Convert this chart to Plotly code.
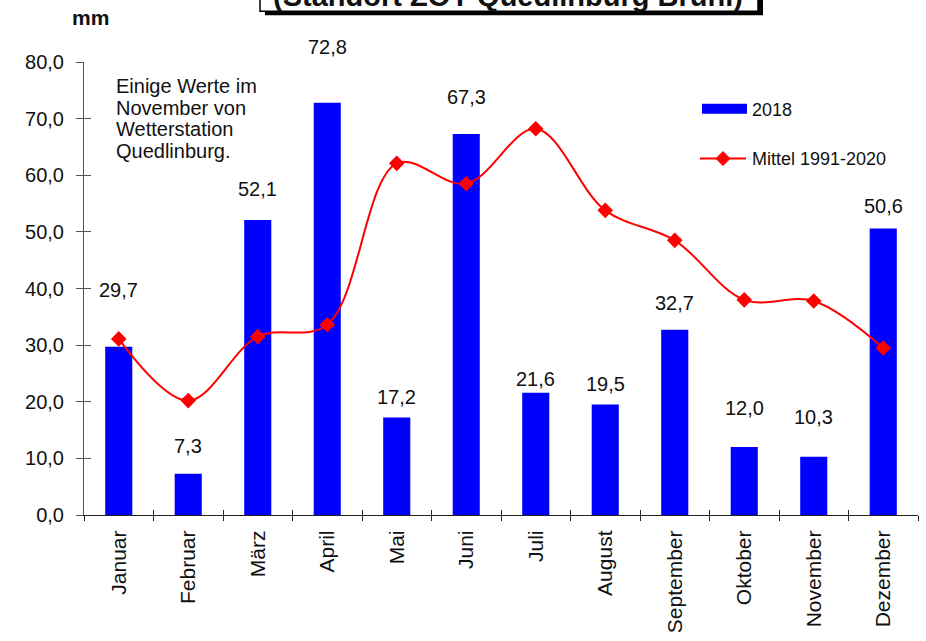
import plotly.graph_objects as go

months = ["Januar", "Februar", "März", "April", "Mai", "Juni", "Juli",
          "August", "September", "Oktober", "November", "Dezember"]
rain_2018 = [29.7, 7.3, 52.1, 72.8, 17.2, 67.3, 21.6, 19.5, 32.7, 12.0, 10.3, 50.6]
mittel_1991_2020 = [31.1, 20.2, 31.5, 33.6, 62.1, 58.5, 68.2, 53.8, 48.5, 38.0, 37.8, 29.5]
label_shift_px = [57, 28, 31, 56, 21, 37, 14, 21, 27, 39, 40, 22]
note_lines = ["Einige Werte im", "November von", "Wetterstation", "Quedlinburg."]

FONT = "Liberation Sans, Arial, sans-serif"
BLUE = "#0000ff"
RED = "#ff0000"

fig = go.Figure()
fig.add_trace(go.Bar(x=months, y=rain_2018, name="2018", marker_color=BLUE,
                     marker_line_width=0, width=0.39, showlegend=False,
                     xaxis="x", yaxis="y"))
fig.add_trace(go.Scatter(x=months, y=mittel_1991_2020, name="Mittel 1991-2020",
                         mode="lines+markers",
                         line=dict(color=RED, width=2, shape="spline", smoothing=1.0),
                         marker=dict(symbol="diamond", size=12, color=RED),
                         showlegend=False, xaxis="x2", yaxis="y2"))

annotations = []
for m, v, s in zip(months, rain_2018, label_shift_px):
    annotations.append(dict(x=m, y=v, xref="x", yref="y", text=f"{v:.1f}".replace(".", ","),
                            showarrow=False, yshift=s, yanchor="middle", xanchor="center",
                            font=dict(family=FONT, size=20, color="#111")))

W, L, R, T, B = 926, 84, 8, 62, 124
PW = W - L - R
PH = 641 - T - B

def px(x):
    return (x - L) / PW

def py(y):
    return (641 - B - y) / PH

for i, line in enumerate(note_lines):
    annotations.append(dict(xref="paper", yref="paper", x=px(114), y=py(86 + i * 21.8),
                            xanchor="left", yanchor="middle", showarrow=False, text=line,
                            font=dict(family=FONT, size=20, color="#111")))

annotations += [
    dict(xref="paper", yref="paper", x=px(90), y=py(17), xanchor="center", yanchor="middle",
         showarrow=False, text="<b>mm</b>", font=dict(family=FONT, size=21, color="#111")),
    dict(xref="paper", yref="paper", x=px(750), y=py(110), xanchor="left", yanchor="middle",
         showarrow=False, text="2018", font=dict(family=FONT, size=18, color="#111")),
    dict(xref="paper", yref="paper", x=px(750), y=py(159), xanchor="left", yanchor="middle",
         showarrow=False, text="Mittel 1991-2020", font=dict(family=FONT, size=18, color="#111")),
    dict(xref="paper", yref="paper", x=px(508), y=py(-4), xanchor="center", yanchor="middle",
         showarrow=False, text="<b>(Standort ZOY Quedlinburg Brühl)</b>",
         font=dict(family=FONT, size=29, color="#111")),
]

dcx, dcy = px(723), py(159)
ddx, ddy = 7 / PW, 7 / PH
shapes = [
    dict(type="rect", xref="paper", yref="paper", x0=px(265), x1=px(763), y0=py(15), y1=py(-40),
         fillcolor="#000", line=dict(width=0), layer="above"),
    dict(type="rect", xref="paper", yref="paper", x0=px(260), x1=px(758), y0=py(11), y1=py(-45),
         fillcolor="#fff", line=dict(color="#000", width=1.5), layer="above"),
    dict(type="rect", xref="paper", yref="paper", x0=px(702), x1=px(747), y0=py(114), y1=py(104),
         fillcolor=BLUE, line=dict(width=0)),
    dict(type="line", xref="paper", yref="paper", x0=px(700), x1=px(746), y0=py(159), y1=py(159),
         line=dict(color=RED, width=2)),
    dict(type="path", xref="paper", yref="paper",
         path=f"M {dcx - ddx} {dcy} L {dcx} {dcy + ddy} L {dcx + ddx} {dcy} L {dcx} {dcy - ddy} Z",
         fillcolor=RED, line=dict(color=RED, width=1)),
]

fig.update_layout(
    width=926, height=641,
    margin=dict(l=L, r=R, t=T, b=B),
    paper_bgcolor="#fff", plot_bgcolor="#fff",
    separators=",.",
    font=dict(family=FONT, size=18, color="#111"),
    annotations=annotations,
    shapes=shapes,
    xaxis=dict(type="category", categoryorder="array", categoryarray=months,
               range=[-0.5, 11.5], tickson="boundaries", ticks="outside", ticklen=5,
               tickcolor="#222", tickangle=-90, showline=True, linecolor="#222", linewidth=1.2,
               showgrid=False, ticklabelstandoff=6,
               tickfont=dict(family=FONT, size=21, color="#111"), zeroline=False),
    yaxis=dict(range=[0, 80], dtick=10, tickformat=".1f", ticks="outside", ticklen=7,
               tickcolor="#555", showline=True, linecolor="#555", linewidth=1,
               showgrid=False, zeroline=False, ticklabelstandoff=8,
               tickfont=dict(family=FONT, size=20, color="#111")),
    xaxis2=dict(type="category", categoryorder="array", categoryarray=months,
                range=[-0.5, 11.5], overlaying="x", anchor="y", side="bottom",
                tickson="boundaries", ticks="inside", ticklen=5, tickcolor="#222",
                showticklabels=False, showline=False, showgrid=False, zeroline=False),
    yaxis2=dict(range=[0, 80], dtick=10, overlaying="y", anchor="x", side="left",
                ticks="inside", ticklen=7, tickcolor="#555",
                showticklabels=False, showline=False, showgrid=False, zeroline=False),
)

fig.write_html("out.html")
